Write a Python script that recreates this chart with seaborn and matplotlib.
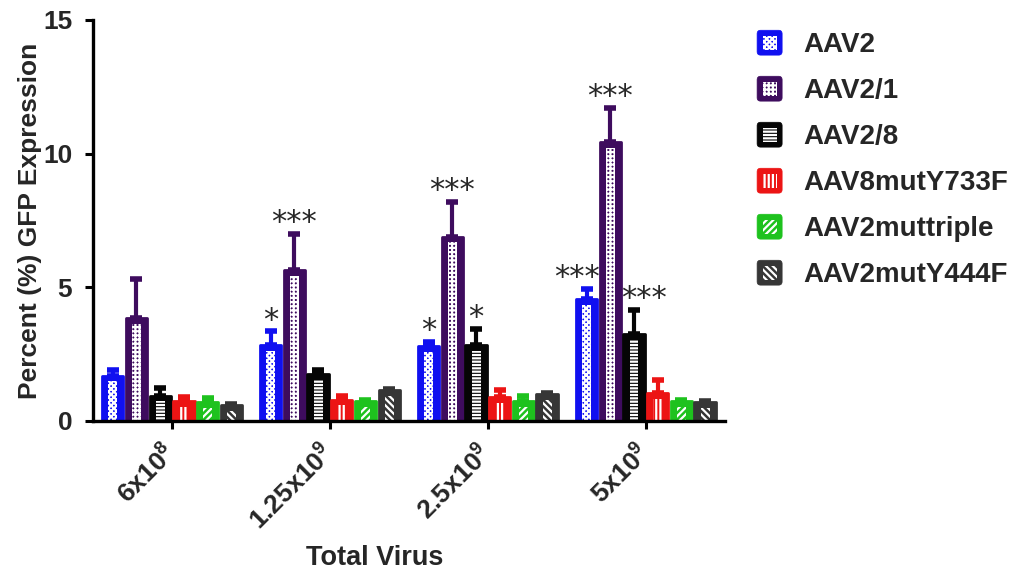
import numpy as np
import pandas as pd
import matplotlib
matplotlib.use("Agg")
import matplotlib.pyplot as plt
import seaborn as sns
from matplotlib.patches import Rectangle, FancyBboxPatch
from matplotlib.legend_handler import HandlerBase
from matplotlib.transforms import ScaledTranslation

# ---- data -------------------------------------------------------------
doses = ["6x10$^8$", "1.25x10$^9$", "2.5x10$^9$", "5x10$^9$"]
vectors = ["AAV2", "AAV2/1", "AAV2/8", "AAV8mutY733F", "AAV2muttriple", "AAV2mutY444F"]

aav2_mean = [1.7, 2.85, 2.8, 4.55]
aav21_mean = [3.85, 5.65, 6.9, 10.45]
aav28_mean = [0.95, 1.75, 2.85, 3.25]
y733f_mean = [0.75, 0.8, 0.9, 1.05]
triple_mean = [0.7, 0.75, 0.75, 0.75]
y444f_mean = [0.6, 1.15, 1.0, 0.7]

aav2_sem = [0.2, 0.5, 0.15, 0.4]
aav21_sem = [1.45, 1.35, 1.3, 1.25]
aav28_sem = [0.3, 0.15, 0.6, 0.9]
y733f_sem = [0.15, 0.15, 0.25, 0.5]
triple_sem = [0.15, 0.05, 0.2, 0.05]
y444f_sem = [0.05, 0.05, 0.05, 0.05]

aav2_sig = ["", "*", "*", "***"]
aav21_sig = ["", "***", "***", "***"]
aav28_sig = ["", "", "*", "***"]

means = [aav2_mean, aav21_mean, aav28_mean, y733f_mean, triple_mean, y444f_mean]
sems = [aav2_sem, aav21_sem, aav28_sem, y733f_sem, triple_sem, y444f_sem]
sigs = [aav2_sig, aav21_sig, aav28_sig, [""] * 4, [""] * 4, [""] * 4]

colors = ["#1010f0", "#3e0c5e", "#050505", "#ec1414", "#1ec21e", "#363636"]
hatches = ["xxxxxx", "++++", "-----", "||||", "/////", "\\\\\\\\\\"]

# ---- style ------------------------------------------------------------
sns.set_theme(style="ticks")
plt.rcParams["font.family"] = ["Liberation Sans", "DejaVu Sans"]
plt.rcParams["font.weight"] = "bold"
plt.rcParams["mathtext.fontset"] = "custom"
plt.rcParams["mathtext.rm"] = "Liberation Sans:bold"
plt.rcParams["mathtext.it"] = "Liberation Sans:bold"
plt.rcParams["mathtext.bf"] = "Liberation Sans:bold"
plt.rcParams["hatch.linewidth"] = 1.6

df = pd.DataFrame(
    [(d, v, means[j][i]) for j, v in enumerate(vectors) for i, d in enumerate(doses)],
    columns=["dose", "vector", "pct"],
)

fig = plt.figure(figsize=(10.19, 5.71), dpi=100)
ax = fig.add_axes([0.0913, 0.2627, 0.6200, 0.7023])

sns.barplot(
    data=df, x="dose", y="pct", hue="vector", order=doses, hue_order=vectors,
    palette=colors, errorbar=None, width=0.9, gap=0.1, saturation=1,
    legend=False, ax=ax,
)

bar_groups = list(ax.containers)
for j, cont in enumerate(bar_groups):
    c = colors[j]
    for i, bar in enumerate(cont):
        bar.set_edgecolor(c)
        bar.set_linewidth(2.0)
        bar.set_joinstyle("round")
        x0, w, h = bar.get_x(), bar.get_width(), bar.get_height()
        cx = x0 + w / 2
        # hatched inset inside the bar
        inset_w = w * 0.42
        top_pad = 0.22
        ax.add_patch(Rectangle((cx - inset_w / 2, 0), inset_w, max(h - top_pad, 0),
                               fill=False, hatch=hatches[j], edgecolor="white",
                               linewidth=0, zorder=bar.get_zorder() + 0.1))
        # one-sided error bar
        ax.errorbar(cx, h, yerr=[[0], [sems[j][i]]], fmt="none", ecolor=c,
                    elinewidth=3.0, capsize=4.5, capthick=4.0, zorder=1)
        label = sigs[j][i]
        if label:
            # wide labels next to the tall AAV2/1 bar are nudged away from it
            dx = 0
            if len(label) > 1 and j == 0:
                dx = -7
            elif len(label) > 1 and j == 2:
                dx = 7
            ax.annotate(label, (cx, h + sems[j][i]), xytext=(dx, 2),
                        textcoords="offset points", ha="center", va="baseline",
                        fontsize=22, fontweight="normal", family="DejaVu Sans")

ax.set_ylim(0, 15)
ax.set_xlim(-0.5, len(doses) - 0.5)
ax.set_yticks([0, 5, 10, 15])
ax.tick_params(axis="both", width=2.2, length=6, labelsize=19, color="black")
ax.tick_params(axis="y", pad=9)
for lab in ax.get_yticklabels():
    lab.set_fontweight("bold")
ax.set_xticks(range(len(doses)))
ax.set_xticklabels(doses, rotation=45, ha="right", rotation_mode="anchor",
                   fontweight="bold", fontsize=19)
shift = ScaledTranslation(-7 / 72, -4 / 72, fig.dpi_scale_trans)
for lab in ax.get_xticklabels():
    lab.set_transform(lab.get_transform() + shift)
for side in ["top", "right"]:
    ax.spines[side].set_visible(False)
for side in ["left", "bottom"]:
    ax.spines[side].set_linewidth(2.4)
    ax.spines[side].set_color("black")

ax.set_ylabel("Percent (%) GFP Expression", fontsize=19, fontweight="bold")
ax.yaxis.set_label_coords((30 - 93) / 632, 0.5)
ax.yaxis.label.set_va("center")
ax.set_xlabel("Total Virus", fontsize=19.5, fontweight="bold")
ax.xaxis.set_label_coords((375 - 93) / 632, -0.31)


class InsetHatchHandler(HandlerBase):
    def __init__(self, color, hatch):
        super().__init__()
        self.color = color
        self.hatch = hatch

    def create_artists(self, legend, orig_handle, xdescent, ydescent,
                       width, height, fontsize, trans):
        x0, y0 = -xdescent, -ydescent
        outer = FancyBboxPatch((x0, y0), width, height,
                               boxstyle="round,pad=0,rounding_size=2.5",
                               facecolor=self.color, edgecolor=self.color,
                               linewidth=0.5, transform=trans)
        inner = Rectangle((x0 + width * 0.22, y0 + height * 0.22),
                          width * 0.56, height * 0.56, fill=False,
                          hatch=self.hatch, edgecolor="white", linewidth=0,
                          transform=trans)
        return [outer, inner]


handles = [Rectangle((0, 0), 1, 1, facecolor=c) for c in colors]
fig.legend(
    handles, vectors, loc="upper left", bbox_to_anchor=(0.743, 0.947),
    frameon=False, borderpad=0, borderaxespad=0,
    handlelength=0.9, handleheight=1.0, handletextpad=0.75, labelspacing=0.65,
    prop={"weight": "bold", "size": 20},
    handler_map={h: InsetHatchHandler(c, ht) for h, c, ht in zip(handles, colors, hatches)},
)

fig.savefig("out.png", dpi=100)
